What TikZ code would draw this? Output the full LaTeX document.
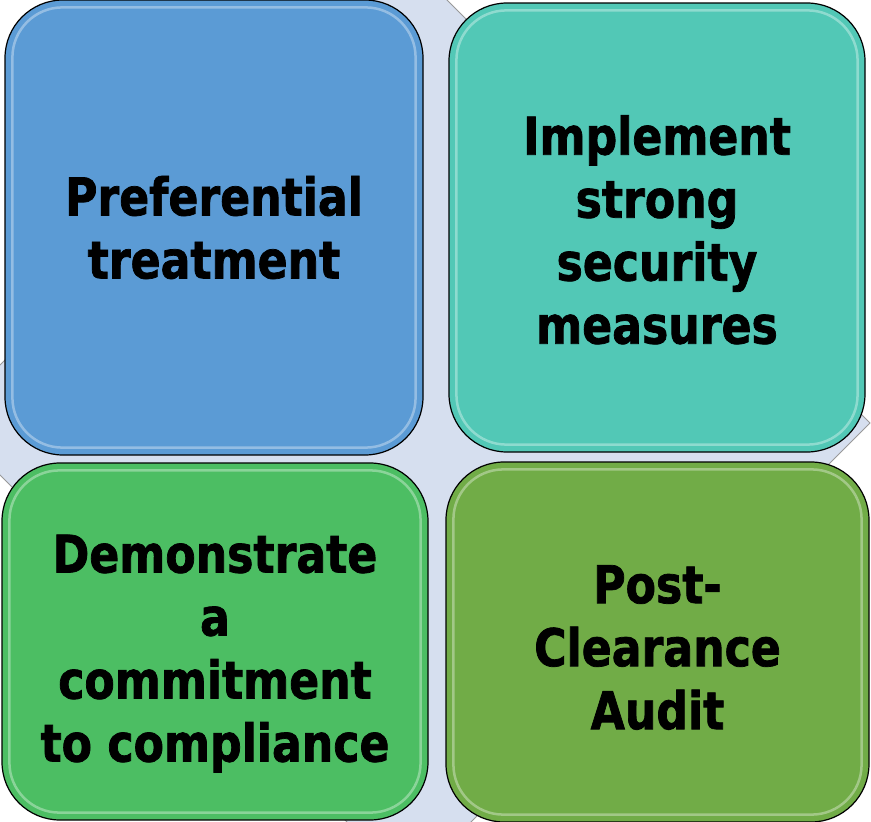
\documentclass[tikz,border=0pt]{standalone}
\usepackage{fontspec}
\newfontfamily\boxfont{DejaVu Sans Bold}[FakeStretch=0.85, FakeBold=1.4]
\definecolor{boxblue}{HTML}{5B9BD5}
\definecolor{boxteal}{HTML}{52C8B6}
\definecolor{boxgreen}{HTML}{4CBE63}
\definecolor{boxolive}{HTML}{71AC47}
\definecolor{backblue}{HTML}{D6DFEF}
\newcommand{\topstrut}[1]{\rule{0pt}{#1}}
\begin{document}
\begin{tikzpicture}[x=1pt, y=-1pt,
        tile/.style={draw=black, line width=1.2pt, rounded corners=58pt,
            inner sep=0pt, align=center, font=\boxfont\fontsize{52}{63}\selectfont},
        gloss/.style={draw=white, opacity=0.35, line width=2.5pt, rounded corners=50pt}]
        \path[use as bounding box, clip] (0,0) rectangle (871,822);

        % diamond behind the tiles
        \draw[fill=backblue, draw=black!40, line width=0.8pt]
            (406,-41) -- (870,423) -- (409,884) -- (-55,420) -- cycle;

        \node[tile, fill=boxblue, minimum width=418pt, minimum height=455pt]
            (pref) at (214,227.5) {Preferential\\treatment};
        \node[tile, fill=boxteal, minimum width=416pt, minimum height=449pt]
            (secu) at (657,227.5) {\topstrut{44pt}Implement\\strong\\security\\measures};
        \node[tile, fill=boxgreen, minimum width=426pt, minimum height=357pt]
            (comp) at (215,641.5) {\topstrut{62pt}Demonstrate\\a\\commitment\\to compliance};
        \node[tile, fill=boxolive, minimum width=423pt, minimum height=360pt]
            (audit) at (657.5,642) {\topstrut{49pt}Post-\\Clearance\\Audit};

        \foreach \t in {pref, secu, comp, audit}
            \draw[gloss] ([xshift=8pt, yshift=-8pt]\t.north west)
                rectangle ([xshift=-8pt, yshift=8pt]\t.south east);
    \end{tikzpicture}
\end{document}
